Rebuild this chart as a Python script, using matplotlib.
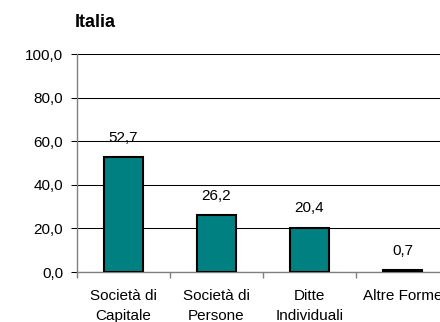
import matplotlib.pyplot as plt
import numpy as np

# Data
categories = ['Società di\nCapitale', 'Società di\nPersone', 'Ditte\nIndividuali', 'Altre Forme']
values = [52.7, 26.2, 20.4, 0.7]
yticks = [0, 20, 40, 60, 80, 100]

plt.rcParams['font.family'] = ['Liberation Sans', 'DejaVu Sans']

fig = plt.figure(figsize=(4.4, 3.22), dpi=100)
ax = fig.add_axes([77 / 440, 1 - 272 / 322, 372 / 440, 218 / 322])

x = np.arange(len(categories))
ax.bar(x, values, width=0.42, color='#008080', edgecolor='black', linewidth=1.5, zorder=3)

for xi, v in zip(x, values):
    ax.annotate(f'{v:.1f}'.replace('.', ','), (xi, v), xytext=(0, 11), textcoords='offset points',
                ha='center', va='baseline', fontsize=11)

ax.set_xlim(-0.5, len(categories) - 0.5)
ax.set_ylim(0, 100)
ax.set_yticks(yticks)
ax.set_yticklabels([f'{t:.1f}'.replace('.', ',') for t in yticks], fontsize=11)
ax.yaxis.grid(True, color='black', linewidth=0.75, zorder=0)
ax.set_axisbelow(True)

ax.set_xticks(x)
ax.set_xticklabels(categories, fontsize=11, linespacing=1.55)
ax.set_xticks(np.arange(len(categories) + 1) - 0.5, minor=True)
ax.tick_params(axis='x', which='major', length=0, pad=12)
ax.tick_params(axis='x', which='minor', length=4, color='#808080', width=1)
ax.tick_params(axis='y', length=4, width=0.75, color='black', pad=6)

for side in ['top', 'right']:
    ax.spines[side].set_visible(False)
for side in ['left', 'bottom']:
    ax.spines[side].set_color('#808080')
    ax.spines[side].set_linewidth(1)

fig.text(75 / 440, 1 - 27 / 322, 'Italia', fontsize=13, fontweight='bold', ha='left', va='baseline')

fig.savefig('out.png', dpi=100)
